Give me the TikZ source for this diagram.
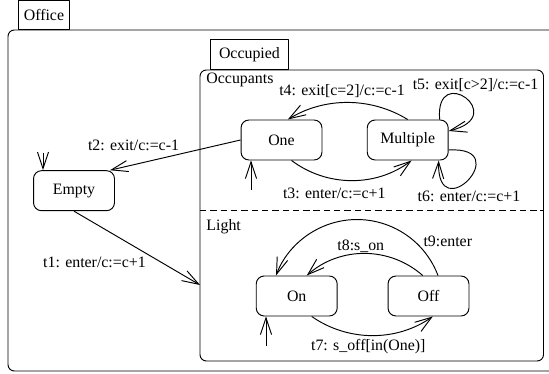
\documentclass[tikz,border=0pt]{standalone}
\usepackage{fontspec}
\setmainfont{Liberation Serif}
\usetikzlibrary{calc,arrows.meta}

\tikzset{
  state/.style={draw, rounded corners=5pt, minimum width=51pt, minimum height=25.2pt, inner sep=0pt},
  tab/.style={draw, anchor=south west, inner sep=0pt},
  trans/.style={-{Straight Barb[length=10.5pt,width=7pt]}},
  lbl/.style={inner sep=0pt},
}

\begin{document}
\begin{tikzpicture}
    [line join=round,line width=0.6pt,x={(0.63pt,0pt)},y={(0pt,0.63pt)},font=\fontsize{10}{12}\selectfont]
    \useasboundingbox (0,0) rectangle (549,374);

    % containers
    \draw[rounded corners=4pt] (549,344) -- (8,344) -- (8,3) -- (549,3);
    \node[tab, minimum width=32.1pt, minimum height=18.3pt] (officetab) at (18,344) {Office};
    \draw[rounded corners=4pt] (200,13) rectangle (543.5,304);
    \node[tab, minimum width=49.1pt, minimum height=18.9pt] (occtab) at (210,304) {Occupied};
    \draw[dash pattern=on 4pt off 2.5pt] (200,163.3) -- (543.5,163.3);
    \node[lbl, anchor=west] (occupants) at (206,294) {Occupants};
    \node[lbl, anchor=west] (light) at (206,147.3) {Light};

    % states
    \node[state] (Empty)    at ( 74.0,183.3) {Empty};
    \node[state] (One)      at (281.5,234.0) {One};
    \node[state] (Multiple) at (407.7,234.0) {Multiple};
    \node[state] (On)       at (296.7, 78.0) {On};
    \node[state] (Off)      at (428.5, 78.0) {Off};

    \coordinate (i0)   at ( 43,221);
    \coordinate (i1)   at (251,184);
    \coordinate (i2)   at (266, 28);
    \coordinate (occW) at (200, 89);

    % initial arrows
    \draw[trans] (i0) -- (i0 |- Empty.north);
    \draw[trans] (i1) -- (i1 |- One.south);
    \draw[trans] (i2) -- (i2 |- On.south);

    % transitions
    \draw[trans] (One.west) -- ($(Empty.north east)+(-5,0)$);
    \draw[trans] (Empty.south) -- (occW);
    \draw[trans] (Multiple.north) arc[start angle=58.4, end angle=121.6, radius=114.4];
    \draw[trans] ($(One.south)+(10,0)$) arc[start angle=233.1, end angle=306.9, radius=100];
    \draw[trans] ($(Multiple.north east)+(-9,0)$) .. controls +(-5,58) and +(62,15) .. ($(Multiple.east)+(0,9)$);
    \draw[trans] ($(Multiple.east)+(0,-10)$) .. controls +(68,4) and +(-2,-69) .. ($(Multiple.south east)+(-10,0)$);
    \draw[trans] ($(Off.north)+(9.5,0)$) arc[start angle=20.7, end angle=159.3, radius=86.6];
    \draw[trans] ($(Off.north)+(-5.8,0)$) arc[start angle=48.5, end angle=131.5, radius=87.5];
    \draw[trans] ($(On.south)+(15,0)$) arc[start angle=235.1, end angle=304.9, radius=105.8];

    % labels
    \node[lbl] (t1) at ( 94.5,111.3) {t1: enter/c:=c+1};
    \node[lbl] (t2) at (133.5,229.0) {t2: exit/c:=c-1};
    \node[lbl] (t3) at (334.3,180.7) {t3: enter/c:=c+1};
    \node[lbl] (t4) at (342.0,283.0) {t4: exit[c=2]/c:=c-1};
    \node[lbl] (t5) at (475.5,289.0) {t5: exit[c>2]/c:=c-1};
    \node[lbl] (t6) at (469.0,177.3) {t6: enter/c:=c+1};
    \node[lbl] (t7) at (368.3, 27.3) {t7: s\_off[in(One)]};
    \node[lbl] (t8) at (360.8,127.3) {t8:s\_on};
    \node[lbl] (t9) at (447.8,132.3) {t9:enter};
\end{tikzpicture}
\end{document}
